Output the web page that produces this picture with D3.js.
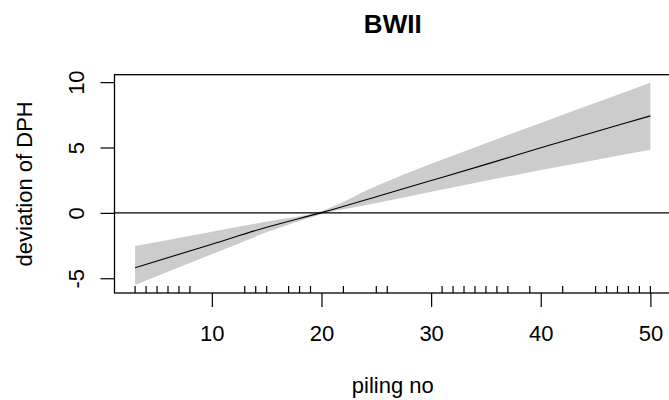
<!DOCTYPE html>
<html>
<head>
<meta charset="utf-8">
<script src="https://cdn.jsdelivr.net/npm/d3@7"></script>
<style>
  html, body { margin: 0; padding: 0; background: #fff; }
  svg { display: block; }
  text { font-family: "Liberation Sans", Arial, sans-serif; fill: #000; }
</style>
</head>
<body>
<svg id="chart" width="669" height="400"></svg>
<script>
// Partial effect of piling number on DPH deviation (fit with confidence band)
const pilingNo = [3, 10, 15, 20, 25, 30, 35, 40, 45, 50];
const fitValues = [-4.19, -2.40, -1.10, 0.02, 1.24, 2.47, 3.71, 4.98, 6.20, 7.42];
const upperValues = [-2.54, -1.44, -0.66, 0.15, 2.05, 3.75, 5.32, 6.88, 8.42, 9.95];
const lowerValues = [-5.51, -3.17, -1.49, -0.10, 0.75, 1.62, 2.45, 3.27, 4.05, 4.83];

// Observed piling numbers (rug)
const rugValues = [3, 4, 5, 6, 7, 8, 13, 14, 15, 17, 18, 19, 22, 25, 26, 31, 32, 33, 34, 35, 36, 37, 39, 42, 45, 46, 47, 48, 49, 50];

const xTicks = [10, 20, 30, 40, 50];
const yTicks = [-5, 0, 5, 10];

const titleText = "BWII";
const xLabel = "piling no";
const yLabel = "deviation of DPH";

const svg = d3.select("#chart");

const plot = { left: 114.5, right: 671, top: 74.7, bottom: 293 };
const fontSize = 22;

// R-style 4% axis extension around the data range
const xMin = d3.min(pilingNo), xMax = d3.max(pilingNo);
const xPad = (xMax - xMin) * 0.04;
const yMin = d3.min(lowerValues), yMax = d3.max(upperValues);
const yPad = (yMax - yMin) * 0.04;

const x = d3.scaleLinear().domain([xMin - xPad, xMax + xPad]).range([plot.left, plot.right]);
const y = d3.scaleLinear().domain([yMin - yPad, yMax + yPad]).range([plot.bottom, plot.top]);

const band = pilingNo.map((p, i) => ({ x: p, lo: lowerValues[i], hi: upperValues[i], fit: fitValues[i] }));

// Plain hyphen for negative numbers, as base R prints them
const fmt = d => String(d);

// Confidence band
svg.append("path")
  .datum(band)
  .attr("fill", "#cccccc")
  .attr("stroke", "none")
  .attr("d", d3.area().curve(d3.curveMonotoneX).x(d => x(d.x)).y0(d => y(d.lo)).y1(d => y(d.hi)));

// Zero reference line
svg.append("line")
  .attr("x1", plot.left).attr("x2", plot.right)
  .attr("y1", y(0)).attr("y2", y(0))
  .attr("stroke", "#000").attr("stroke-width", 1.3);

// Fitted line
svg.append("path")
  .datum(band)
  .attr("fill", "none")
  .attr("stroke", "#000")
  .attr("stroke-width", 1.1)
  .attr("d", d3.line().curve(d3.curveMonotoneX).x(d => x(d.x)).y(d => y(d.fit)));

// Rug along the bottom
svg.append("g")
  .selectAll("line")
  .data(rugValues)
  .join("line")
  .attr("x1", d => x(d)).attr("x2", d => x(d))
  .attr("y1", plot.bottom).attr("y2", plot.bottom - 7)
  .attr("stroke", "#000").attr("stroke-width", 1.2);

// Axes
const xAxis = d3.axisBottom(x).tickValues(xTicks).tickSize(14).tickFormat(fmt);
const gx = svg.append("g").attr("transform", `translate(0,${plot.bottom})`).call(xAxis);
gx.select(".domain").remove();
gx.selectAll("line").attr("stroke", "#000").attr("stroke-width", 1.2);
gx.selectAll("text")
  .attr("font-size", fontSize)
  .attr("font-family", "Liberation Sans, Arial, sans-serif")
  .attr("fill", "#000")
  .attr("dy", null)
  .attr("y", 48);

const yAxis = d3.axisLeft(y).tickValues(yTicks).tickSize(14).tickFormat(fmt);
const gy = svg.append("g").attr("transform", `translate(${plot.left},0)`).call(yAxis);
gy.select(".domain").remove();
gy.selectAll("line").attr("stroke", "#000").attr("stroke-width", 1.2);
// Tick labels run parallel to the axis, as in base R graphics
gy.selectAll("text")
  .attr("font-size", fontSize)
  .attr("font-family", "Liberation Sans, Arial, sans-serif")
  .attr("fill", "#000")
  .attr("x", null).attr("dy", null)
  .attr("text-anchor", "middle")
  .attr("transform", `translate(${84 - plot.left},0) rotate(-90)`);

// Plot frame
svg.append("rect")
  .attr("x", plot.left).attr("y", plot.top)
  .attr("width", plot.right - plot.left).attr("height", plot.bottom - plot.top)
  .attr("fill", "none").attr("stroke", "#000").attr("stroke-width", 1.3);

// Title and axis labels
svg.append("text")
  .attr("x", (plot.left + plot.right) / 2).attr("y", 33)
  .attr("text-anchor", "middle").attr("font-weight", "bold").attr("font-size", 26)
  .text(titleText);

svg.append("text")
  .attr("x", (plot.left + plot.right) / 2).attr("y", 393)
  .attr("text-anchor", "middle").attr("font-size", fontSize)
  .text(xLabel);

svg.append("text")
  .attr("transform", `translate(32,${(plot.top + plot.bottom) / 2}) rotate(-90)`)
  .attr("text-anchor", "middle").attr("font-size", fontSize)
  .text(yLabel);
</script>
</body>
</html>
